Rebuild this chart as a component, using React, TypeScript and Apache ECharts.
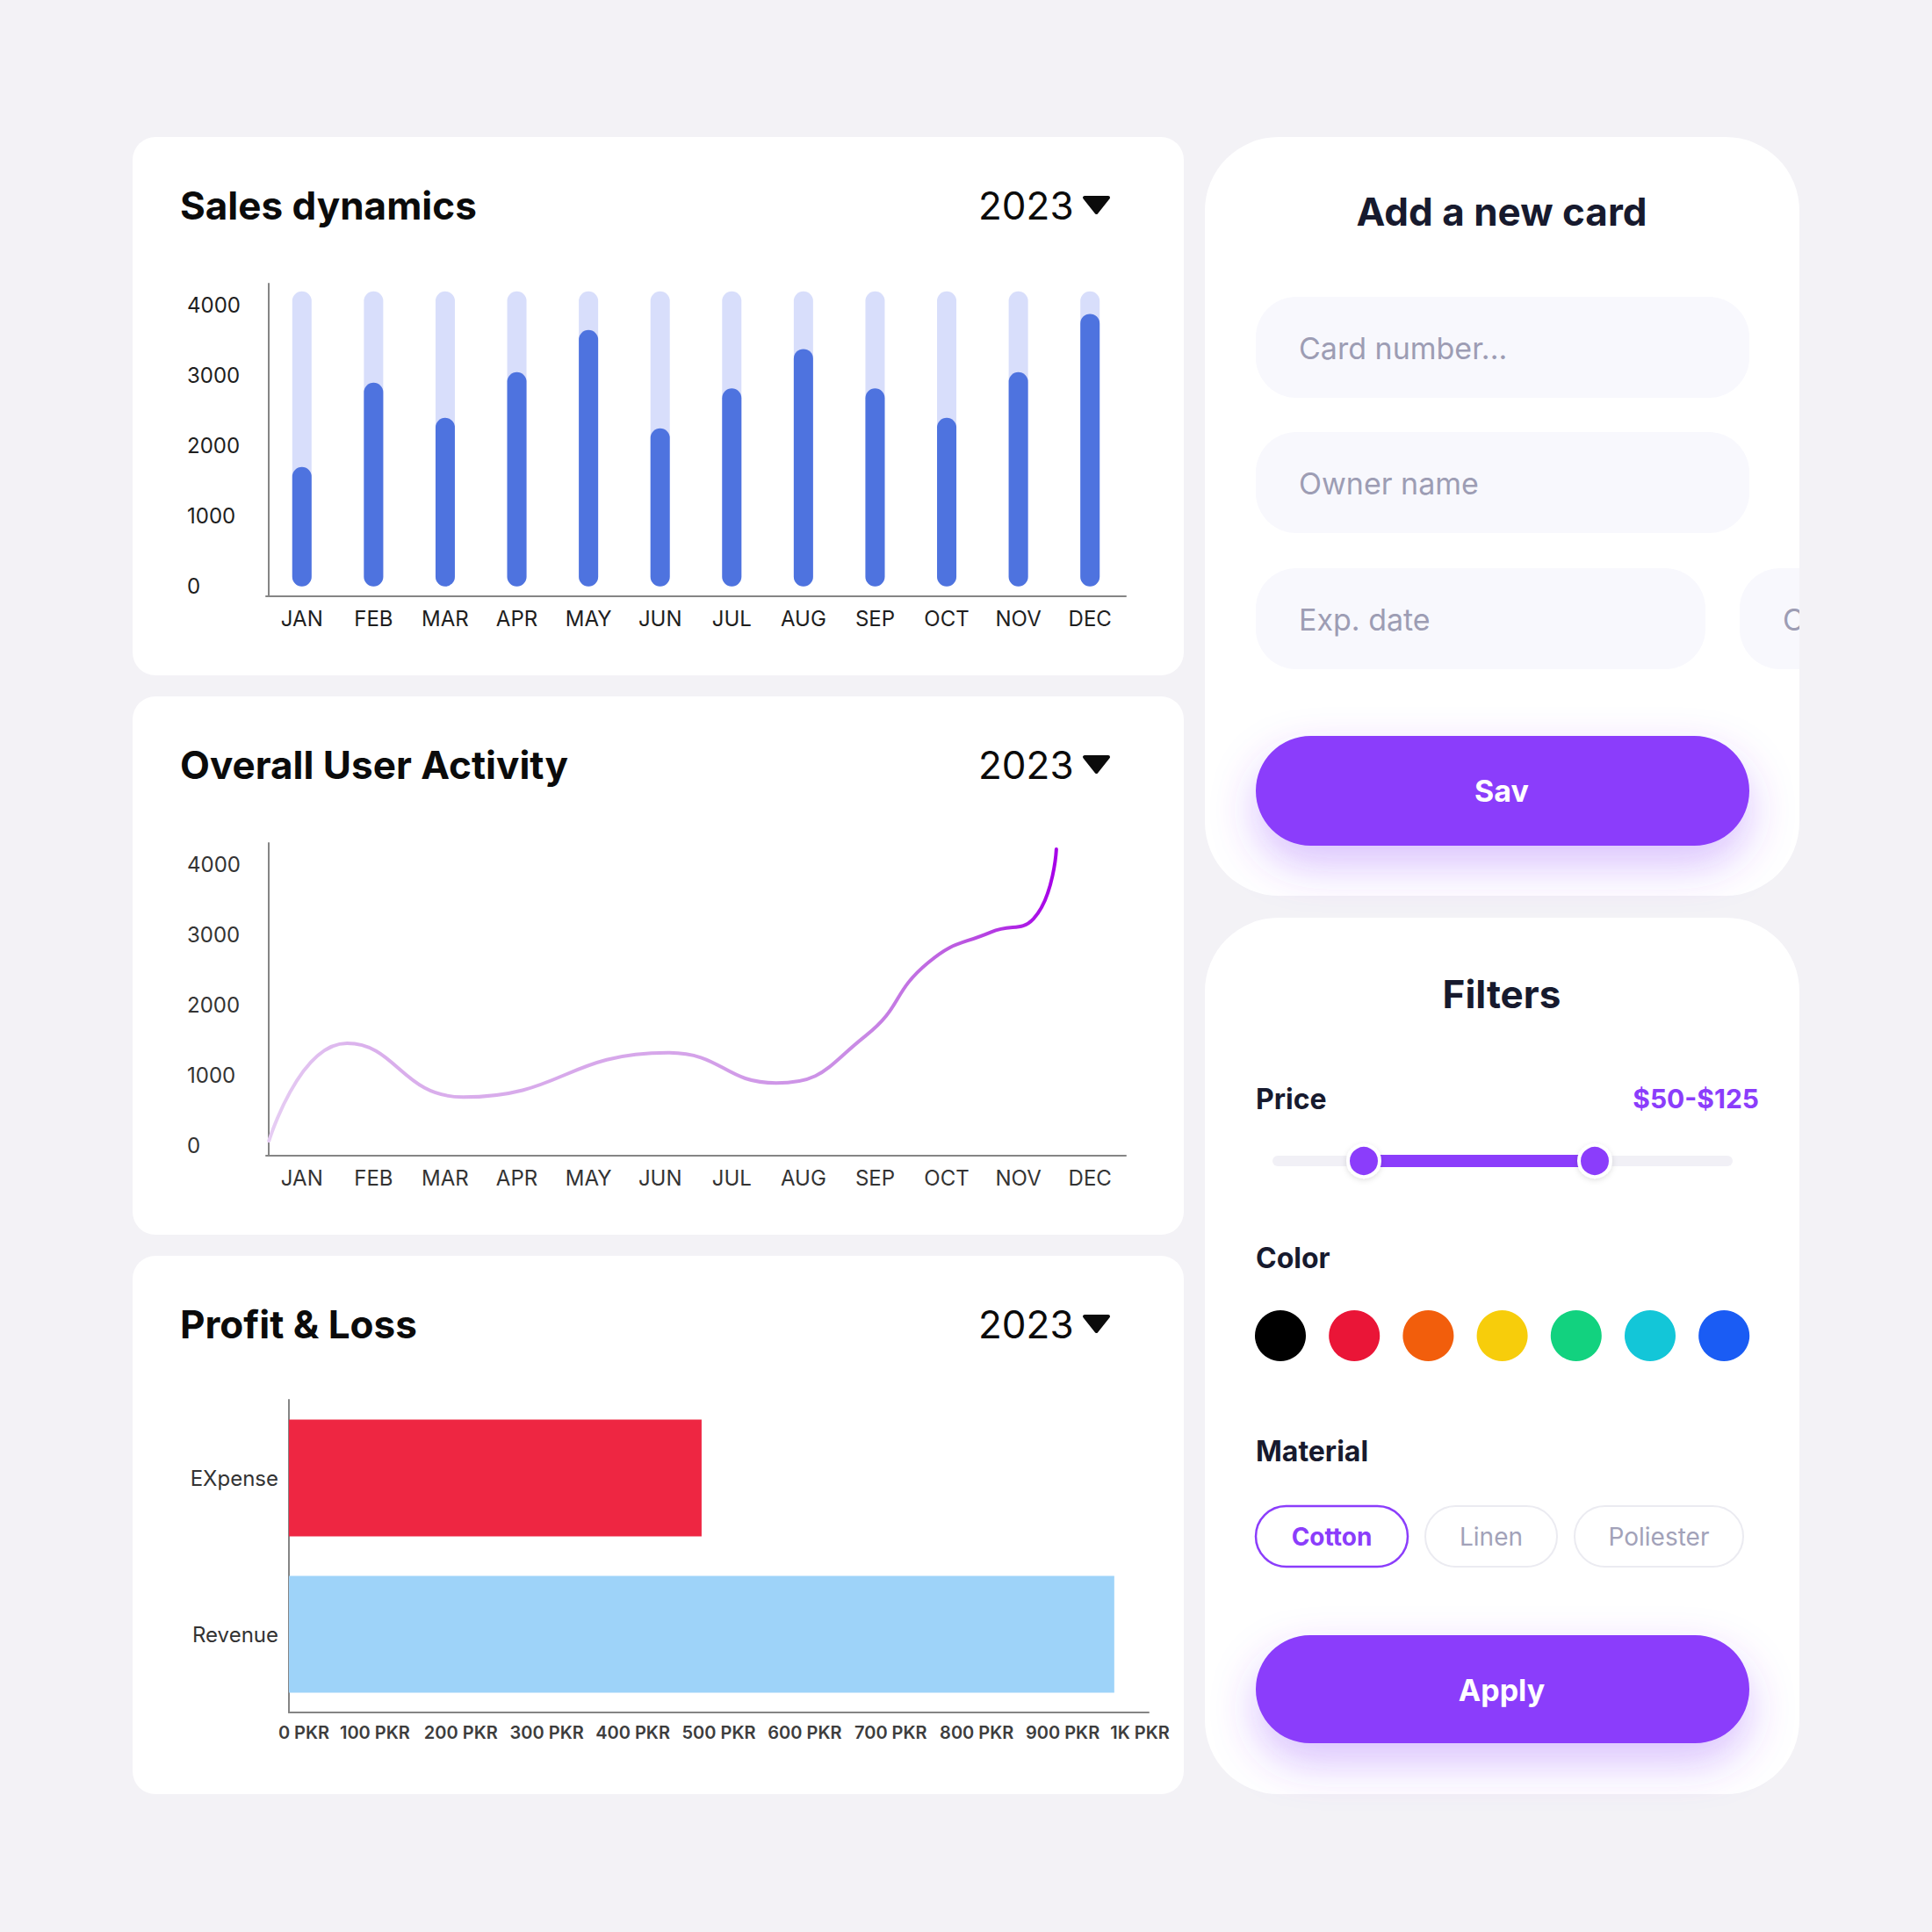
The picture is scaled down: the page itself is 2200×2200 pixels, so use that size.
import React, { useEffect, useRef } from "react";
import * as echarts from "echarts";

const months = ["JAN", "FEB", "MAR", "APR", "MAY", "JUN", "JUL", "AUG", "SEP", "OCT", "NOV", "DEC"];
const salesValues = [1700, 2900, 2400, 3050, 3650, 2250, 2820, 3380, 2820, 2400, 3050, 3880];
const salesTrack = [4200, 4200, 4200, 4200, 4200, 4200, 4200, 4200, 4200, 4200, 4200, 4200];
// anchor points of the activity curve: position in month units (JAN = 0) and value
const activityX = [-0.46, 0.63, 2.25, 5.11, 6.62, 7.87, 8.74, 9.62, 10.21, 10.53];
const activityY = [70, 1460, 694, 1325, 894, 1568, 2607, 3044, 3231, 4221];
const yTickValues = [0, 1000, 2000, 3000, 4000];
const plCategories = ["EXpense", "Revenue"];
const plValues = [480, 960];
const plColors = ["#ee2642", "#9ed3f9"];
const swatchColors = ["#000000", "#ea1537", "#f25e0c", "#f7cd0b", "#12d27f", "#13c6d8", "#1a5cf4"];
const materials = ["Cotton", "Linen", "Poliester"];
const placeholders = ["Card number...", "Owner name", "Exp. date"];

const PURPLE = "#8b3dfb";
const DARK = "#171a2e";
const BG = "#f3f2f6";
const FONT = "Inter";

function txt(x: number, y: number, text: string, size: number, weight: any, fill: string, align = "left", z = 20) {
  return {
    type: "text",
    x,
    y,
    z,
    style: {
      text,
      fill,
      fontSize: size,
      fontWeight: weight,
      fontFamily: FONT,
      align,
      textAlign: align,
      verticalAlign: "middle",
      textVerticalAlign: "middle",
    },
  };
}

function rect(x: number, y: number, w: number, h: number, r: any, style: any, z = 1) {
  return { type: "rect", z, shape: { x, y, width: w, height: h, r }, style };
}

export default function App() {
  const ref = useRef<HTMLDivElement>(null);

  useEffect(() => {
    if (!ref.current) return;
    const chart = echarts.init(ref.current, undefined, { renderer: "svg" });

    const graphics: any[] = [];
    // left cards
    const leftTops = [156, 793, 1430];
    const titles = ["Sales dynamics", "Overall User Activity", "Profit & Loss"];
    leftTops.forEach((top, i) => {
      graphics.push(rect(151, top, 1197, 613, 26, { fill: "#ffffff" }, -5));
      graphics.push(txt(205, top + 78, titles[i], 44, 700, "#0b0b0b"));
      graphics.push(txt(1114, top + 78, "2023", 44, 400, "#0b0b0b"));
      graphics.push({
        type: "polygon",
        z: 20,
        shape: { points: [[1235, top + 69], [1262, top + 69], [1248.5, top + 86]] },
        style: { fill: "#0b0b0b", stroke: "#0b0b0b", lineWidth: 4, lineJoin: "round" },
      });
    });

    // right card 1
    graphics.push(rect(1372, 156, 677, 864, 84, { fill: "#ffffff" }, -5));
    graphics.push(txt(1710, 241, "Add a new card", 44, 700, DARK, "center"));
    const fieldTops = [338, 492, 647];
    fieldTops.forEach((t, i) => {
      const w = i === 2 ? 512 : 562;
      graphics.push(rect(1430, t, w, 115, 46, { fill: "#f8f8fd" }, 1));
      graphics.push(txt(1479, t + 58, placeholders[i], 34, 400, "#9d9db4"));
    });
    graphics.push(rect(1981, 647, 160, 115, 46, { fill: "#f8f8fd" }, 1));
    graphics.push(txt(2030, 705, "CVC", 34, 400, "#9d9db4"));
    // cover the overflow on the right of card 1
    graphics.push(rect(2049, 140, 151, 900, 0, { fill: BG }, 30));
    graphics.push(
      rect(1430, 838, 562, 125, 62.5, {
        fill: PURPLE,
        shadowBlur: 50,
        shadowColor: "rgba(139,61,251,0.32)",
        shadowOffsetY: 22,
      }, 2)
    );
    graphics.push(txt(1710, 900, "Sav", 34, 700, "#ffffff", "center"));

    // right card 2 (filters)
    graphics.push(rect(1372, 1045, 677, 998, 84, { fill: "#ffffff" }, -5));
    graphics.push(txt(1710, 1132, "Filters", 44, 700, DARK, "center"));
    graphics.push(txt(1430, 1251, "Price", 32, 700, DARK));
    graphics.push(txt(2003, 1251, "$50-$125", 30, 700, PURPLE, "right"));
    graphics.push(rect(1449, 1316, 524, 12, 6, { fill: "#f1f0f6" }, 1));
    graphics.push(rect(1553, 1315, 263, 14, 0, { fill: PURPLE }, 2));
    [1553, 1816].forEach((cx) => {
      graphics.push({
        type: "circle",
        z: 3,
        shape: { cx, cy: 1322, r: 18 },
        style: { fill: PURPLE, stroke: "#ffffff", lineWidth: 4, shadowBlur: 6, shadowColor: "rgba(0,0,0,0.12)", shadowOffsetY: 2 },
      });
    });
    graphics.push(txt(1430, 1432, "Color", 32, 700, DARK));
    swatchColors.forEach((c, i) => {
      graphics.push({ type: "circle", z: 3, shape: { cx: 1458 + i * 84.2, cy: 1521, r: 29 }, style: { fill: c } });
    });
    graphics.push(txt(1430, 1652, "Material", 32, 700, DARK));
    const chipX = [1430, 1623, 1793];
    const chipW = [173, 150, 192];
    materials.forEach((m, i) => {
      const active = i === 0;
      graphics.push(
        rect(chipX[i], 1715, chipW[i], 69, 34.5, {
          fill: "#ffffff",
          stroke: active ? PURPLE : "#ebebf1",
          lineWidth: active ? 2.5 : 2,
        }, 2)
      );
      graphics.push(txt(chipX[i] + chipW[i] / 2, 1750, m, 28, active ? 700 : 400, active ? PURPLE : "#a2a2b9", "center"));
    });
    graphics.push(
      rect(1430, 1862, 562, 123, 61.5, {
        fill: PURPLE,
        shadowBlur: 50,
        shadowColor: "rgba(139,61,251,0.32)",
        shadowOffsetY: 22,
      }, 2)
    );
    graphics.push(txt(1710, 1924, "Apply", 34, 700, "#ffffff", "center"));

    const axisLine = { show: true, onZero: false, lineStyle: { color: "#858585", width: 2 } };

    const yValAxis = (gridIndex: number, color: string) => ({
      type: "value",
      gridIndex,
      min: -140,
      max: 4310,
      offset: -3,
      axisLine,
      axisTick: { show: false },
      splitLine: { show: false },
      axisLabel: {
        customValues: yTickValues,
        formatter: (v: number) => String(v),
        align: "left",
        margin: 93,
        fontSize: 24,
        color,
        fontFamily: FONT,
      },
    });

    const catAxis = (gridIndex: number, color: string) => ({
      type: "category",
      gridIndex,
      data: months,
      axisLine,
      axisTick: { show: false },
      axisLabel: { margin: 13, fontSize: 24, color, fontFamily: FONT, interval: 0 },
    });

    const pkrLabel = { fontSize: 20, fontWeight: 600, color: "#3d3d3d", fontFamily: FONT };

    const option: any = {
      animation: false,
      backgroundColor: BG,
      textStyle: { fontFamily: FONT },
      grid: [
        { left: 303, top: 323, width: 979, height: 356 },
        { left: 303, top: 960, width: 979, height: 356 },
        { left: 329, top: 1594, width: 979, height: 356 },
      ],
      xAxis: [
        catAxis(0, "#1e1e1e"),
        catAxis(1, "#333333"),
        { type: "value", gridIndex: 1, show: false, min: -0.5, max: 11.5, axisLine: { onZero: false } },
        {
          type: "value",
          gridIndex: 2,
          min: 0,
          max: 1000,
          interval: 100,
          axisLine,
          axisTick: { show: false },
          splitLine: { show: false },
          axisLabel: {
            margin: 13,
            ...pkrLabel,
            showMinLabel: true,
            showMaxLabel: true,
            hideOverlap: false,
            formatter: (v: number) =>
              v >= 1000 ? "{k|1K PKR}" : v === 0 ? "{m|0 PKR}" : v + " PKR",
            rich: {
              m: { ...pkrLabel, padding: [0, 0, 0, 34] },
              k: { ...pkrLabel, padding: [0, 20, 0, 0] },
            },
          },
        },
      ],
      yAxis: [
        yValAxis(0, "#1e1e1e"),
        yValAxis(1, "#333333"),
        {
          type: "category",
          gridIndex: 2,
          data: plCategories,
          inverse: true,
          axisLine,
          axisTick: { show: false },
          axisLabel: { margin: 12, fontSize: 24, color: "#333333", fontFamily: FONT },
        },
      ],
      series: [
        {
          type: "bar",
          xAxisIndex: 0,
          yAxisIndex: 0,
          data: salesTrack,
          barWidth: 22,
          barGap: "-100%",
          silent: true,
          itemStyle: { color: "#d8defb", borderRadius: 11 },
          z: 1,
        },
        {
          type: "bar",
          xAxisIndex: 0,
          yAxisIndex: 0,
          data: salesValues,
          barWidth: 22,
          itemStyle: { color: "#4e73df", borderRadius: 11 },
          z: 2,
        },
        {
          type: "line",
          xAxisIndex: 2,
          yAxisIndex: 1,
          data: activityX.map((x, i) => [x, activityY[i]]),
          smooth: 0.5,
          symbol: "none",
          lineStyle: {
            width: 4,
            cap: "round",
            color: new echarts.graphic.LinearGradient(0, 0, 1, 0, [
              { offset: 0, color: "#e6cdf3" },
              { offset: 0.12, color: "#dab0ec" },
              { offset: 0.5, color: "#d6a6ea" },
              { offset: 0.75, color: "#c98be5" },
              { offset: 0.88, color: "#bb58e0" },
              { offset: 1, color: "#a600e8" },
            ]),
          },
        },
        {
          type: "bar",
          xAxisIndex: 3,
          yAxisIndex: 2,
          data: plValues.map((v, i) => ({ value: v, itemStyle: { color: plColors[i] } })),
          barWidth: 133,
        },
      ],
      graphic: { elements: graphics },
    };

    chart.setOption(option);
    return () => chart.dispose();
  }, []);

  return (
    <div
      ref={ref}
      style={{ position: "absolute", left: 0, top: 0, width: 2200, height: 2200 }}
    />
  );
}
